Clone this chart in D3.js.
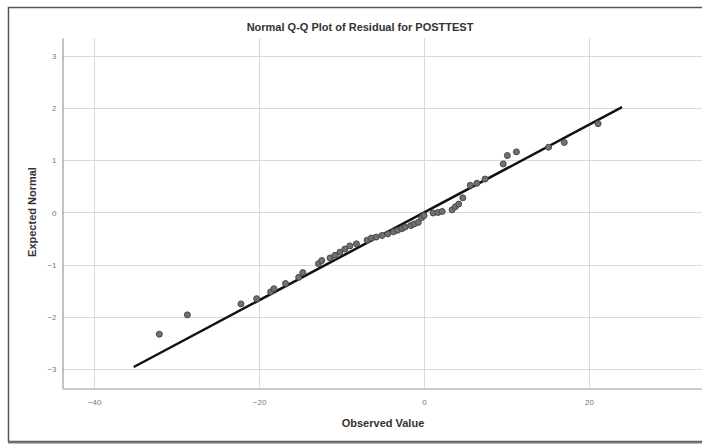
<!DOCTYPE html>
<html>
<head>
<meta charset="utf-8">
<script src="https://cdn.jsdelivr.net/npm/d3@7"></script>
<style>
  body { margin: 0; background: #fff; }
  svg { display: block; font-family: "Liberation Sans", Arial, sans-serif; }
</style>
</head>
<body>
<div id="chart"></div>
<script>
// observed residuals and their expected normal values
const observed = [-32.1, -28.7, -22.2, -20.3, -18.6, -18.2, -16.8, -15.2, -14.7, -12.8,
  -12.4, -11.4, -10.8, -10.2, -9.6, -9.0, -8.2, -6.9, -6.4, -5.8,
  -5.1, -4.4, -3.7, -3.2, -2.7, -2.3, -1.6, -1.2, -0.7, -0.3,
  0.0, 1.1, 1.7, 2.2, 3.4, 3.8, 4.2, 4.7, 5.6, 6.4,
  7.4, 9.6, 10.1, 11.2, 15.1, 17.0, 21.1];
const expected = [-2.33, -1.96, -1.75, -1.65, -1.52, -1.46, -1.36, -1.24, -1.15, -0.98,
  -0.92, -0.87, -0.82, -0.76, -0.70, -0.64, -0.60, -0.53, -0.49, -0.47,
  -0.44, -0.41, -0.37, -0.34, -0.31, -0.28, -0.25, -0.22, -0.19, -0.10,
  -0.06, -0.01, 0.00, 0.02, 0.05, 0.11, 0.16, 0.28, 0.52, 0.56,
  0.64, 0.93, 1.09, 1.16, 1.25, 1.34, 1.70];
const xTicks = [-40, -20, 0, 20];
const yTicks = [-3, -2, -1, 0, 1, 2, 3];
// reference line: expected = observed / sd
const lineX = [-35.2, 24.0];
const sd = 11.9;

const width = 702, height = 445;
const svg = d3.select('#chart').append('svg')
  .attr('width', width)
  .attr('height', height);

// outer frame
svg.append('rect')
  .attr('x', 8.5).attr('y', 7.5)
  .attr('width', 720).attr('height', 434)
  .attr('fill', 'none')
  .attr('stroke', '#555')
  .attr('stroke-width', 1.5);
svg.append('line')
  .attr('x1', 8).attr('x2', width)
  .attr('y1', 442.5).attr('y2', 442.5)
  .attr('stroke', '#777').attr('stroke-width', 2);

const pLeft = 62, pRight = 702, pTop = 38, pBottom = 388;
const x = d3.scaleLinear().domain([-43.9, 33.7]).range([pLeft, pRight]);
const y = d3.scaleLinear().domain([-3.36, 3.34]).range([pBottom, pTop]);

// grid
svg.append('g').selectAll('line')
  .data(yTicks)
  .join('line')
    .attr('x1', pLeft).attr('x2', pRight)
    .attr('y1', d => Math.round(y(d)) + 0.5)
    .attr('y2', d => Math.round(y(d)) + 0.5)
    .attr('stroke', '#d9d9d9');
svg.append('g').selectAll('line')
  .data(xTicks)
  .join('line')
    .attr('x1', d => Math.round(x(d)) + 0.5)
    .attr('x2', d => Math.round(x(d)) + 0.5)
    .attr('y1', pTop).attr('y2', pBottom)
    .attr('stroke', '#d9d9d9');

// axes
const xAxis = svg.append('g')
  .attr('transform', `translate(0,${pBottom + 0.5})`)
  .call(d3.axisBottom(x).tickValues(xTicks).tickFormat(d3.format('d')).tickSize(0).tickPadding(11));
const yAxis = svg.append('g')
  .attr('transform', `translate(${pLeft + 0.5},0)`)
  .call(d3.axisLeft(y).tickValues(yTicks).tickFormat(d3.format('d')).tickSize(0).tickPadding(6));
[xAxis, yAxis].forEach(g => {
  g.select('.domain').attr('stroke', '#999').attr('stroke-width', 1.2);
  g.selectAll('.tick text')
    .attr('fill', '#777')
    .style('font-size', '8px')
    .style('font-family', '"Liberation Sans", Arial, sans-serif');
});

// reference line
svg.append('line')
  .attr('x1', x(lineX[0])).attr('y1', y(lineX[0] / sd))
  .attr('x2', x(lineX[1])).attr('y2', y(lineX[1] / sd))
  .attr('stroke', '#111')
  .attr('stroke-width', 2.5);

// points
svg.append('g').selectAll('circle')
  .data(observed)
  .join('circle')
    .attr('cx', d => x(d))
    .attr('cy', (d, i) => y(expected[i]))
    .attr('r', 3)
    .attr('fill', '#707070')
    .attr('stroke', '#4a4a4a')
    .attr('stroke-width', 1);

// titles
svg.append('text')
  .attr('x', 360).attr('y', 31)
  .attr('text-anchor', 'middle')
  .attr('font-weight', 'bold')
  .attr('font-size', 11)
  .attr('fill', '#333')
  .text('Normal Q-Q Plot of Residual for POSTTEST');

svg.append('text')
  .attr('x', 383).attr('y', 427)
  .attr('text-anchor', 'middle')
  .attr('font-weight', 'bold')
  .attr('font-size', 11)
  .attr('fill', '#333')
  .text('Observed Value');

svg.append('text')
  .attr('transform', 'translate(36,212) rotate(-90)')
  .attr('text-anchor', 'middle')
  .attr('font-weight', 'bold')
  .attr('font-size', 11)
  .attr('fill', '#333')
  .text('Expected Normal');
</script>
</body>
</html>
